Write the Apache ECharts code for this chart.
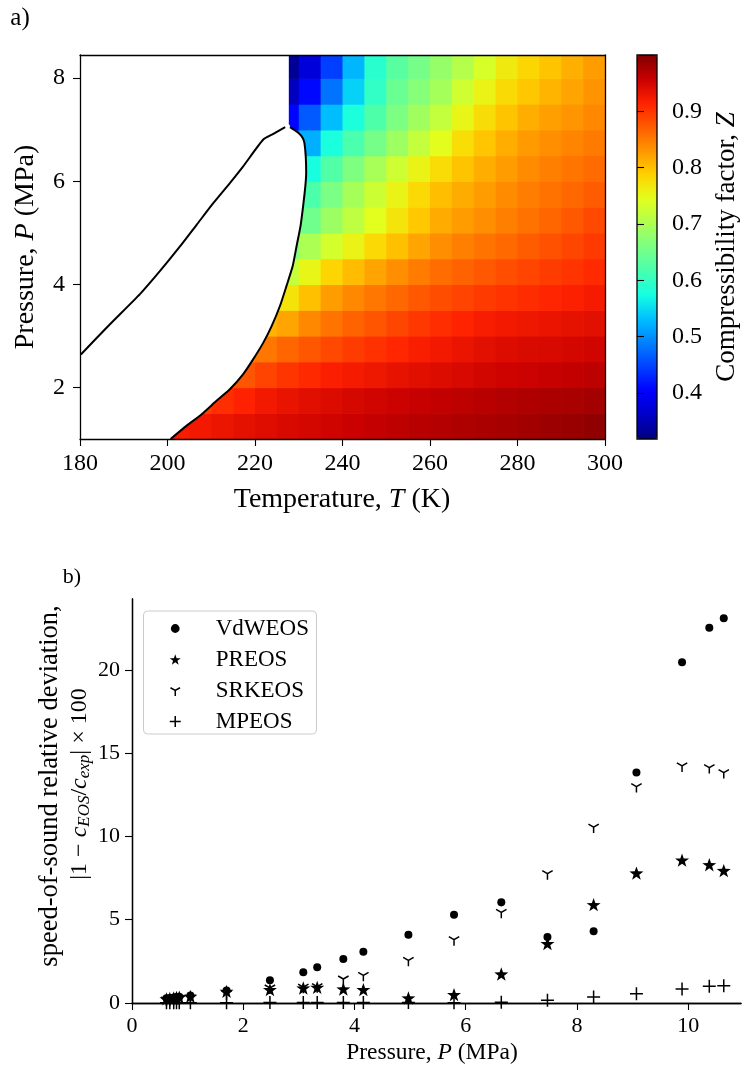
<!DOCTYPE html>
<html>
<head>
<meta charset="utf-8">
<script src="https://cdn.jsdelivr.net/npm/echarts@6/dist/echarts.min.js"></script>
<style>html,body{margin:0;padding:0;background:#fff}#chart{width:743px;height:1073px}</style>
</head>
<body>
<div id="chart"></div>
<script>
// ---------------- Panel a data: compressibility factor Z on a T x P grid (cell centres) ----------------
const N = null;
const cellTemps = [182.5, 187.5, 192.5, 197.5, 202.5, 207.5, 212.5, 217.5, 222.5, 227.5, 232.5, 237.5,
                   242.5, 247.5, 252.5, 257.5, 262.5, 267.5, 272.5, 277.5, 282.5, 287.5, 292.5, 297.5];
const cellPressures = [1.25, 1.75, 2.25, 2.75, 3.25, 3.75, 4.25, 4.75, 5.25, 5.75, 6.25, 6.75, 7.25, 7.75, 8.25];

const zAtP1_25 = [N,N,N,N, .92,.925,.93,.935,.94,.945,.948,.952,.956,.96,.963,.966,.969,.972,.975,.977,.98,.983,.986,.99];
const zAtP1_75 = [N,N,N,N,N, .895,.905,.915,.925,.932,.938,.943,.947,.951,.955,.958,.961,.964,.967,.97,.972,.974,.976,.978];
const zAtP2_25 = [N,N,N,N,N,N, .875,.878,.89,.90,.909,.918,.923,.928,.933,.938,.942,.946,.95,.953,.955,.958,.961,.964];
const zAtP2_75 = [N,N,N,N,N,N,N, .85,.853,.865,.876,.886,.895,.903,.911,.919,.925,.931,.937,.942,.944,.946,.948,.951];
const zAtP3_25 = [N,N,N,N,N,N,N,N, .81,.82,.84,.855,.867,.878,.888,.898,.906,.913,.92,.925,.928,.931,.934,.937];
const zAtP3_75 = [N,N,N,N,N,N,N,N,N, .771,.80,.825,.84,.853,.864,.875,.883,.89,.897,.902,.907,.912,.917,.922];
const zAtP4_25 = [N,N,N,N,N,N,N,N,N, .719,.753,.784,.803,.82,.835,.849,.86,.868,.875,.882,.889,.895,.901,.908];
const zAtP4_75 = [N,N,N,N,N,N,N,N,N, .664,.699,.732,.756,.78,.80,.82,.836,.846,.855,.863,.872,.88,.888,.897];
const zAtP5_25 = [N,N,N,N,N,N,N,N,N, .615,.65,.685,.714,.744,.769,.794,.815,.826,.836,.846,.856,.865,.875,.886];
const zAtP5_75 = [N,N,N,N,N,N,N,N,N,N, .62,.659,.694,.725,.755,.78,.801,.814,.826,.838,.848,.856,.864,.873];
const zAtP6_25 = [N,N,N,N,N,N,N,N,N,N, .576,.624,.662,.695,.727,.755,.778,.797,.813,.826,.838,.846,.854,.861];
const zAtP6_75 = [N,N,N,N,N,N,N,N,N, .47,.52,.578,.618,.654,.687,.718,.746,.776,.796,.813,.827,.835,.843,.85];
const zAtP7_25 = [N,N,N,N,N,N,N,N,N, .405,.463,.53,.579,.621,.66,.689,.718,.753,.777,.797,.813,.823,.831,.84];
const zAtP7_75 = [N,N,N,N,N,N,N,N,N, .355,.408,.48,.543,.597,.645,.668,.693,.728,.756,.779,.795,.808,.82,.832];
const zAtP8_25 = [N,N,N,N,N,N,N,N,N, .33,.375,.445,.525,.59,.63,.655,.68,.705,.735,.765,.783,.797,.812,.826];
const zRows = [zAtP1_25, zAtP1_75, zAtP2_25, zAtP2_75, zAtP3_25, zAtP3_75, zAtP4_25, zAtP4_75,
               zAtP5_25, zAtP5_75, zAtP6_25, zAtP6_75, zAtP7_25, zAtP7_75, zAtP8_25];

// phase envelope (black curve)
const leftBranchT  = [180.2, 186.9, 193.7, 198.3, 202.9, 206.7, 210.5, 214.3, 217.3, 221.9, 224.2, 226.9];
const leftBranchP  = [2.64, 3.23, 3.81, 4.26, 4.74, 5.16, 5.58, 5.97, 6.29, 6.81, 6.92, 7.05];
const rightBranchT = [200.7, 204.4, 207.4, 211.2, 214.3, 217.3, 219.6, 221.9, 223.8, 225.7, 227.2, 228.6, 229.5,
                      230.4, 231.0, 231.5, 231.7, 231.6, 231.3, 230.9, 229.9, 228.0];
const rightBranchP = [1.00, 1.26, 1.45, 1.74, 1.97, 2.26, 2.55, 2.87, 3.19, 3.58, 3.97, 4.35, 4.74,
                      5.13, 5.52, 5.90, 6.16, 6.48, 6.74, 6.84, 6.94, 7.05];
const denseEdgeT = 227.6;      // left edge of the coloured dense-fluid strip
const denseEdgeP = 7.12;

const tempTicks = [180, 200, 220, 240, 260, 280, 300];
const pressTicksA = [2, 4, 6, 8];
const zTicks = [0.4, 0.5, 0.6, 0.7, 0.8, 0.9];

// ---------------- Panel b data ----------------
const pressureMPa = [0.62, 0.68, 0.75, 0.80, 0.85, 1.05, 1.70, 2.48, 3.08, 3.33, 3.80, 4.16, 4.97, 5.79, 6.64, 7.47, 8.30, 9.07, 9.89, 10.38, 10.64];
const vdwDev = [0.28, 0.30, 0.33, 0.36, 0.38, 0.45, 0.75, 1.36, 1.84, 2.14, 2.64, 3.08, 4.10, 5.30, 6.04, 3.96, 4.30, 13.83, 20.46, 22.53, 23.10];
const prDev  = [0.25, 0.27, 0.30, 0.33, 0.35, 0.40, 0.70, 0.80, 0.90, 0.94, 0.84, 0.80, 0.30, 0.50, 1.74, 3.56, 5.90, 7.80, 8.58, 8.30, 7.95];
const srkDev = [0.18, 0.20, 0.22, 0.25, 0.27, 0.30, 0.55, 0.90, 0.95, 0.98, 1.44, 1.66, 2.56, 3.80, 5.44, 7.76, 10.56, 12.99, 14.23, 14.13, 13.83];
const mpDev  = [0.02, 0.02, 0.02, 0.02, 0.02, 0.02, 0.02, 0.03, 0.03, 0.03, 0.03, 0.03, 0.03, 0.02, 0.05, 0.16, 0.36, 0.56, 0.84, 1.00, 1.04];
const pressTicksB = [0, 2, 4, 6, 8, 10];
const devTicks = [0, 5, 10, 15, 20];

// ---------------- build ----------------
const FONT = 'Liberation Serif';
const heatData = [];
zRows.forEach((row, i) => row.forEach((z, j) => { if (z !== null) heatData.push([cellTemps[j], cellPressures[i], z]); }));
const pair = (ts, ps) => ts.map((t, i) => [t, ps[i]]);
const leftBranch = pair(leftBranchT, leftBranchP);
const rightBranch = pair(rightBranchT, rightBranchP);
const P_MAX_A = 8.45, P_MIN_A = 1, T_MIN = 180, T_MAX = 300;
const whitePoly = [[T_MIN, P_MAX_A], [T_MIN, P_MIN_A]].concat(rightBranch, [[denseEdgeT, denseEdgeP], [denseEdgeT, P_MAX_A]]);

const jet = ['#000080','#0000c8','#0000ff','#0040ff','#0080ff','#00bfff','#15ffe2','#48ffaf','#7bff84',
             '#afff50','#e2ff1d','#ffd200','#ff9700','#ff5c00','#ff2100','#c80000','#800000'];

const blackLine = { show: true, lineStyle: { color: '#000', width: 1.3 } };
const tickStyle = (vals) => ({ show: true, length: 7, lineStyle: { color: '#000', width: 1.1 }, customValues: vals });
const labelStyle = (vals, size, margin, extra) => Object.assign({ color: '#000', fontFamily: FONT, fontSize: size, margin: margin, customValues: vals }, extra || {});
function mainAxis(opts) {
  return Object.assign({ type: 'value', z: 10, splitLine: { show: false }, axisLine: blackLine }, opts);
}
function frameAxis(opts) {
  return Object.assign({
    type: 'value', z: 10, splitLine: { show: false }, axisLine: blackLine,
    axisTick: { show: false }, axisLabel: { show: false }
  }, opts);
}

const plus = 'path://M0,10 L20,10 M10,0 L10,20';
const triDown = 'path://M10,0 L10,0.01 M1.34,5 L10,10 L18.66,5 M10,10 L10,20';
const star = 'path://M10,0 L12.35,6.76 L19.51,6.91 L13.80,11.24 L15.88,18.09 L10,14 L4.12,18.09 L6.20,11.24 L0.49,6.91 L7.65,6.76 Z';
const strokeStyle = { color: 'rgba(0,0,0,0)', borderColor: '#000', borderWidth: 1.5, opacity: 1 };
const fillStyle = { color: '#000', borderWidth: 0, opacity: 1 };

const richLabel = (size) => ({ n: { fontFamily: FONT, fontSize: size, fill: '#000' }, i: { fontFamily: FONT, fontSize: size, fontStyle: 'italic', fill: '#000' } });

const option = {
  animation: false,
  backgroundColor: '#fff',
  grid: [
    { left: 80, top: 55, width: 525, height: 384 },
    { left: 637, top: 55, width: 20, height: 384 },
    { left: 132, top: 599, width: 609, height: 404 }
  ],
  xAxis: [
    mainAxis({ gridIndex: 0, min: T_MIN, max: T_MAX, interval: 20, axisTick: tickStyle(tempTicks), axisLabel: labelStyle(tempTicks, 24, 13) }),
    frameAxis({ gridIndex: 0, min: T_MIN, max: T_MAX, position: 'top' }),
    { gridIndex: 1, type: 'value', min: 0, max: 1, show: false },
    mainAxis({ gridIndex: 2, min: 0, max: 10.95, axisTick: tickStyle(pressTicksB), axisLabel: labelStyle(pressTicksB, 22, 12) }),
    frameAxis({ gridIndex: 2, min: 0, max: 10.95, position: 'top' })
  ],
  yAxis: [
    mainAxis({ gridIndex: 0, min: P_MIN_A, max: P_MAX_A, axisTick: tickStyle(pressTicksA), axisLabel: labelStyle(pressTicksA, 24, 15) }),
    frameAxis({ gridIndex: 0, min: P_MIN_A, max: P_MAX_A, position: 'right' }),
    mainAxis({ gridIndex: 1, min: 0.318, max: 1.0, position: 'right', axisLine: { show: false }, axisTick: tickStyle(zTicks), axisLabel: labelStyle(zTicks, 24, 15, { formatter: v => v.toFixed(1) }) }),
    mainAxis({ gridIndex: 2, min: 0, max: 24.25, axisTick: tickStyle(devTicks), axisLabel: labelStyle(devTicks, 22, 12) }),
    frameAxis({ gridIndex: 2, min: 0, max: 24.25, position: 'right' })
  ],
  visualMap: {
    type: 'continuous', min: 0.318, max: 1.0, seriesIndex: 0, dimension: 2,
    inRange: { color: jet }, calculable: false, showLabel: false, text: null,
    left: 637, top: 55, itemWidth: 20, itemHeight: 384, padding: 0, hoverLink: false
  },
  legend: {
    orient: 'vertical', left: 169, top: 617, padding: 0, itemGap: 8, itemWidth: 11, itemHeight: 11,
    selectedMode: false,
    textStyle: { fontFamily: FONT, fontSize: 23, color: '#000', padding: [0, 0, 0, 30] },
    data: [
      { name: 'VdWEOS', icon: 'path://M5,1 A4,4 0 1 1 4.99,1 Z M0,0 L0.01,0 M10,10 L10,10.01', itemStyle: fillStyle },
      { name: 'PREOS', icon: star, itemStyle: fillStyle },
      { name: 'SRKEOS', icon: triDown, itemStyle: strokeStyle },
      { name: 'MPEOS', icon: plus, itemStyle: strokeStyle }
    ]
  },
  graphic: [
    { type: 'rect', z: -1, shape: { x: 143.5, y: 611, width: 173, height: 123, r: 4 }, style: { fill: 'rgba(255,255,255,0.85)', stroke: '#cccccc', lineWidth: 1 } },
    { type: 'rect', z: 100, shape: { x: 637, y: 55, width: 20, height: 384 }, style: { fill: 'none', stroke: '#000', lineWidth: 1.3 } },
    { type: 'text', x: 20, y: 18, style: { text: 'a)', font: '25px "Liberation Serif"', fill: '#000', textAlign: 'center', textVerticalAlign: 'middle' } },
    { type: 'text', x: 72, y: 577, style: { text: 'b)', font: '22px "Liberation Serif"', fill: '#000', textAlign: 'center', textVerticalAlign: 'middle' } },
    { type: 'text', x: 342, y: 500, style: { text: '{n|Temperature, }{i|T}{n| (K)}', textAlign: 'center', textVerticalAlign: 'middle', rich: richLabel(28) } },
    { type: 'text', x: 26, y: 247, rotation: Math.PI / 2, style: { text: '{n|Pressure, }{i|P}{n| (MPa)}', textAlign: 'center', textVerticalAlign: 'middle', rich: richLabel(28) } },
    { type: 'text', x: 727, y: 247, rotation: Math.PI / 2, style: { text: '{n|Compressibility factor, }{i|Z}', textAlign: 'center', textVerticalAlign: 'middle', rich: richLabel(27) } },
    { type: 'text', x: 432, y: 1053, style: { text: '{n|Pressure, }{i|P}{n| (MPa)}', textAlign: 'center', textVerticalAlign: 'middle', rich: richLabel(23.5) } },
    { type: 'text', x: 50, y: 786, rotation: Math.PI / 2, style: { text: 'speed-of-sound relative deviation,', textAlign: 'center', textVerticalAlign: 'middle',
        font: '26.5px "Liberation Serif"', fill: '#000' } },
    { type: 'text', x: 80, y: 784, rotation: Math.PI / 2, style: { text: '{n|\u007C1 \u2212 }{i|c}{s|EOS}{n|/}{i|c}{s|exp}{n|\u007C \u00D7 100}', textAlign: 'center', textVerticalAlign: 'middle',
        rich: { n: { fontFamily: FONT, fontSize: 24, fill: '#000', verticalAlign: 'middle' },
                i: { fontFamily: FONT, fontSize: 24, fontStyle: 'italic', fill: '#000', verticalAlign: 'middle' },
                s: { fontFamily: FONT, fontSize: 17, fontStyle: 'italic', fill: '#000', verticalAlign: 'bottom', padding: [10, 0, 0, 0] } } } }
  ],
  series: [
    {
      type: 'custom', name: 'Z', xAxisIndex: 0, yAxisIndex: 0, z: 2, data: heatData,
      renderItem: function (params, api) {
        const t = api.value(0), p = api.value(1);
        const a = api.coord([t - 2.5, p + 0.25]);
        const b = api.coord([t + 2.5, p - 0.25]);
        const rect = echarts.graphic.clipRectByRect({ x: a[0], y: a[1], width: b[0] - a[0] + 0.7, height: b[1] - a[1] + 0.7 }, params.coordSys);
        if (!rect) return;
        return { type: 'rect', shape: rect, style: { fill: api.visual('color') } };
      }
    },
    {
      type: 'custom', name: 'two-phase', xAxisIndex: 0, yAxisIndex: 0, z: 3, data: [[T_MIN, P_MIN_A]], silent: true,
      renderItem: function (params, api) {
        const pts = whitePoly.map(pt => api.coord(pt));
        return { type: 'polygon', shape: { points: pts }, style: { fill: '#fff', stroke: '#fff', lineWidth: 1 } };
      }
    },
    { type: 'line', xAxisIndex: 0, yAxisIndex: 0, z: 4, data: leftBranch, showSymbol: false, smooth: 0.2, lineStyle: { color: '#000', width: 2 }, silent: true },
    { type: 'line', xAxisIndex: 0, yAxisIndex: 0, z: 4, data: rightBranch, showSymbol: false, smooth: 0.2, lineStyle: { color: '#000', width: 2 }, silent: true },
    { type: 'scatter', name: 'VdWEOS', xAxisIndex: 3, yAxisIndex: 3, symbol: 'circle', symbolSize: 8, itemStyle: fillStyle, data: pair(pressureMPa, vdwDev) },
    { type: 'scatter', name: 'PREOS', xAxisIndex: 3, yAxisIndex: 3, symbol: star, symbolSize: 14, symbolKeepAspect: true, itemStyle: fillStyle, data: pair(pressureMPa, prDev) },
    { type: 'scatter', name: 'SRKEOS', xAxisIndex: 3, yAxisIndex: 3, symbol: triDown, symbolSize: 12, symbolKeepAspect: true, itemStyle: strokeStyle, data: pair(pressureMPa, srkDev) },
    { type: 'scatter', name: 'MPEOS', xAxisIndex: 3, yAxisIndex: 3, symbol: plus, symbolSize: 13, itemStyle: strokeStyle, data: pair(pressureMPa, mpDev) }
  ]
};

const chart = echarts.init(document.getElementById('chart'), null, { renderer: 'canvas', width: 743, height: 1073 });
chart.setOption(option);
</script>
</body>
</html>
